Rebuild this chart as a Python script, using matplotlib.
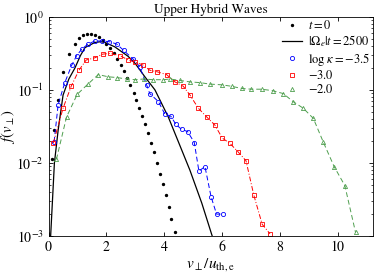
import matplotlib
matplotlib.use("Agg")
import matplotlib.pyplot as plt
import numpy as np

plt.rcParams['font.family'] = ['STIXGeneral', 'DejaVu Serif']
plt.rcParams['mathtext.fontset'] = 'stix'

# t = 0 (black dots)
v0 = [0.12, 0.19, 0.31, 0.5, 0.7, 0.9, 1.05, 1.2, 1.33, 1.47, 1.6, 1.74, 1.87, 2.0,
      2.13, 2.26, 2.38, 2.5, 2.61, 2.72, 2.83, 2.94, 3.04, 3.14, 3.24, 3.34, 3.44,
      3.54, 3.64, 3.75, 3.85, 3.95, 4.05, 4.15, 4.25, 4.36]
f0 = [0.0114, 0.0283, 0.0731, 0.176, 0.306, 0.431, 0.507, 0.559, 0.583, 0.585, 0.568,
      0.532, 0.486, 0.432, 0.375, 0.317, 0.266, 0.219, 0.180, 0.146, 0.117, 0.0916,
      0.0726, 0.0569, 0.0440, 0.0337, 0.0254, 0.0190, 0.0140, 0.00992, 0.00715,
      0.00510, 0.00359, 0.00250, 0.00172, 0.00113]

# |Omega_e| t = 2500 (black line)
v1 = [0.07, 0.2, 0.33, 0.5, 0.7, 0.91, 1.1, 1.26, 1.6, 1.8, 1.95, 2.29, 2.75, 3.0,
      3.33, 3.68, 4.14, 4.5, 4.89, 5.3, 5.66]
logf1 = [-3.0, -2.0, -1.55, -1.07, -0.85, -0.70, -0.53, -0.42, -0.35, -0.34, -0.35,
         -0.41, -0.54, -0.64, -0.82, -1.0, -1.37, -1.72, -2.1, -2.55, -3.0]

# log kappa = -3.5 (blue circles)
v2 = [0.19, 0.33, 0.56, 0.8, 0.97, 1.15, 1.37, 1.6, 1.85, 2.1, 2.35, 2.6, 2.93, 3.15,
      3.39, 3.5, 3.8, 4.02, 4.23, 4.4, 4.6, 4.81, 5.04, 5.2, 5.41, 5.62, 5.81, 6.04]
logf2 = [-1.71, -1.2, -0.9, -0.66, -0.53, -0.44, -0.37, -0.33, -0.33, -0.34, -0.37,
         -0.46, -0.58, -0.68, -0.93, -1.05, -1.16, -1.33, -1.36, -1.47, -1.54, -1.57,
         -1.72, -2.11, -2.05, -2.46, -2.70, -2.70]

# log kappa = -3.0 (red squares)
v3 = [0.16, 0.5, 0.78, 1.05, 1.3, 1.6, 1.87, 2.12, 2.47, 2.75, 3.0, 3.27, 3.5, 3.74,
      4.08, 4.37, 4.66, 4.89, 5.18, 5.47, 5.75, 6.01, 6.27, 6.56, 6.83, 7.1, 7.39, 7.66]
logf3 = [-1.73, -1.25, -0.95, -0.73, -0.59, -0.56, -0.51, -0.50, -0.53, -0.59, -0.62,
         -0.66, -0.73, -0.75, -0.79, -0.89, -0.95, -1.07, -1.25, -1.37, -1.48, -1.66,
         -1.73, -1.85, -1.97, -2.44, -2.84, -2.97]

# log kappa = -2.0 (green triangles)
v4 = [0.27, 0.62, 0.99, 1.36, 1.72, 2.06, 2.35, 2.7, 2.99, 3.3, 3.62, 3.97, 4.2, 4.54,
      4.89, 5.24, 5.58, 5.99, 6.33, 6.68, 7.02, 7.37, 7.75, 8.12, 8.46, 8.81, 9.16,
      9.5, 9.88, 10.25, 10.62]
logf4 = [-1.95, -1.37, -1.06, -0.92, -0.79, -0.82, -0.83, -0.85, -0.86, -0.85, -0.86,
         -0.86, -0.85, -0.87, -0.89, -0.90, -0.92, -0.93, -0.95, -0.98, -0.99, -0.99,
         -1.01, -1.05, -1.16, -1.25, -1.39, -1.71, -2.05, -2.31, -2.95]

labels = ['$t=0$', '$|\\Omega_e|t=2500$', '$\\log\\,\\kappa=-3.5$', '$-3.0$', '$-2.0$']
green = '#4f9f4f'

fig = plt.figure(figsize=(3.74, 2.77), dpi=100)
ax = fig.add_axes([0.130, 0.148, 0.867, 0.791])

ax.plot(v0, f0, 'k.', ms=2.8, ls='none')
ax.plot(v1, 10 ** np.array(logf1), 'k-', lw=0.9)
ax.plot(v2, 10 ** np.array(logf2), ls=(0, (5, 3)), color='blue', lw=0.7,
        marker='o', ms=3.0, mfc='none', mew=0.6)
ax.plot(v3, 10 ** np.array(logf3), ls=(0, (5, 2, 1, 2)), color='red', lw=0.7,
        marker='s', ms=2.6, mfc='none', mew=0.6)
ax.plot(v4, 10 ** np.array(logf4), ls=(0, (5, 3)), color=green, lw=0.7,
        marker='^', ms=3.0, mfc='none', mew=0.6)

from matplotlib.lines import Line2D
handles = [
    Line2D([], [], color='k', marker='.', ls='none', ms=2.8),
    Line2D([], [], color='k', lw=0.9),
    Line2D([], [], color='blue', marker='o', ls='none', ms=3.0, mfc='none', mew=0.6),
    Line2D([], [], color='red', marker='s', ls='none', ms=2.6, mfc='none', mew=0.6),
    Line2D([], [], color=green, marker='^', ls='none', ms=3.0, mfc='none', mew=0.6),
]
ax.legend(handles, labels, loc='upper right', frameon=False, fontsize=9,
          handlelength=1.6, handletextpad=0.5, labelspacing=0.1,
          borderaxespad=0.1, borderpad=0.1)

ax.set_yscale('log')
ax.set_xlim(0, 11.22)
ax.set_ylim(1e-3, 1)
ax.set_xticks([0, 2, 4, 6, 8, 10])
ax.tick_params(which='both', direction='in', top=True, right=True, labelsize=10)
ax.tick_params(which='major', length=3, width=0.6)
ax.tick_params(which='minor', length=1.5, width=0.5)
for s in ax.spines.values():
    s.set_linewidth(0.6)
ax.set_title('Upper Hybrid Waves', fontsize=9.5, pad=3)
ax.set_xlabel('$v_\\perp/u_{\\rm th,e}$', fontsize=11, labelpad=1)
ax.set_ylabel('$f(v_\\perp)$', fontsize=10.5, labelpad=0)
ax.yaxis.set_label_coords(-0.098, 0.5)

fig.savefig('out.png', dpi=100)
